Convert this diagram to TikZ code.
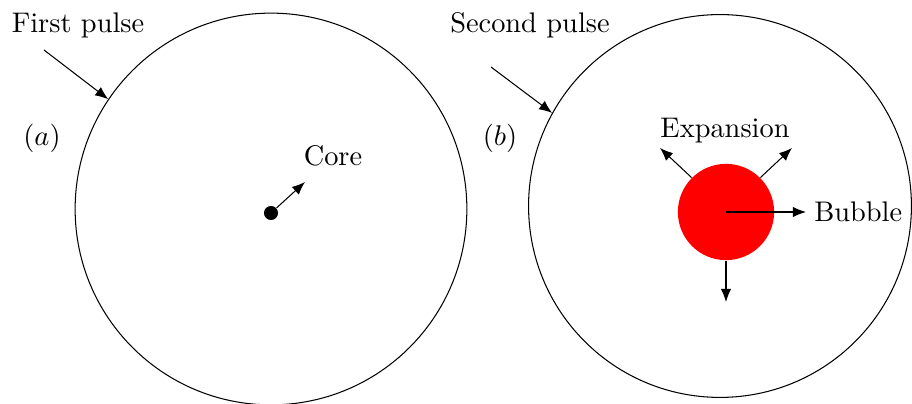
\documentclass[tikz,border=0pt]{standalone}
\usepackage{amsmath}
\usepackage{tikz}
\usetikzlibrary{arrows.meta,positioning,calc}

\begin{document}
\begin{tikzpicture}[
    x=0.0135cm, y=-0.0135cm, % one unit is one pixel of the sketch
    >={Latex[length=5pt,width=4pt]},
    font=\fontsize{10.9}{13}\selectfont,
    pulsecircle/.style={
        draw,
        circle,
        thin,
        inner sep=0pt
    },
    coredot/.style={
        circle,
        fill=black,
        inner sep=0pt,
        minimum size=0.19cm
    },
    bubblecircle/.style={
        circle,
        fill=red,
        inner sep=0pt,
        minimum size=1.3cm
    },
    lbl/.style={inner sep=1pt},
    arrow/.style={->, thin}
]
\useasboundingbox (0,0) rectangle (912,404);

% --- PULSES ---
\node[pulsecircle, minimum size=5.29cm] (pulseA) at (271,209) {};
\node[pulsecircle, minimum size=5.17cm] (pulseB) at (720,206) {};

% --- LABELS ---
\node[lbl] (firstlbl) at (78,25) {First pulse};
\node[lbl] (secondlbl) at (530,25) {Second pulse};
\node[lbl] (tagA) at (42,138) {$(a)$};
\node[lbl] (tagB) at (500,138) {$(b)$};

% Core of the first pulse
\node[coredot] (core) at (271,213) {};
\node[lbl] (corelbl) at (333,156) {Core};

% Bubble in the second pulse
\node[bubblecircle] (bubble) at (726,212) {};
\node[lbl] (explbl) at (725,131) {Expansion};
\node[lbl, anchor=west, inner sep=3pt] (bubblelbl) at (806,212) {Bubble};

% --- CONNECTIONS ---
\coordinate (firsttail) at (44,50);
\coordinate (secondtail) at (491,67);
\coordinate (corehead) at (305,182);
\coordinate (downhead) at (726,302);
\coordinate (lefthead) at (660,148);
\coordinate (righthead) at (792,148);

\draw[arrow] (firsttail) -- (pulseA.146);
\draw[arrow] (secondtail) -- (pulseB.151);
\draw[arrow] (core) -- (corehead);

\draw[arrow] (bubble.center) -- (bubblelbl.west);
\draw[arrow] (bubble.south) -- (downhead);
\draw[arrow] (bubble.135) -- (lefthead);
\draw[arrow] (bubble.45) -- (righthead);

\end{tikzpicture}
\end{document}
